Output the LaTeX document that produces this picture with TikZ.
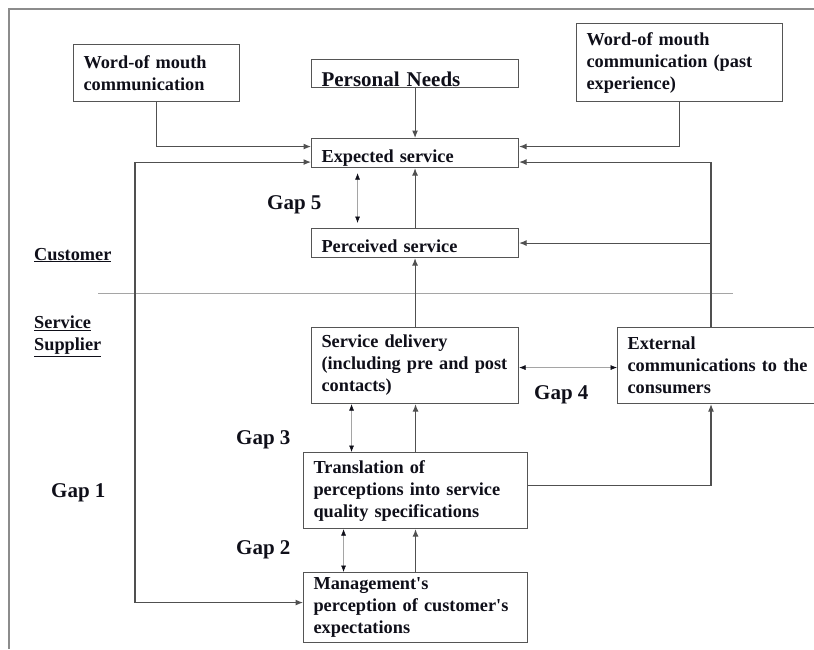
\documentclass[tikz,border=0pt]{standalone}
\usepackage{fontspec}
\setmainfont{Liberation Serif}
\usepackage{xcolor}
\usetikzlibrary{arrows.meta}
\definecolor{ink}{RGB}{15,15,25}
\definecolor{boxgray}{RGB}{85,85,85}
\definecolor{linegray}{RGB}{80,80,80}
\definecolor{thingray}{RGB}{165,165,165}
\definecolor{framegray}{RGB}{140,140,140}

\begin{document}
\begin{tikzpicture}[x=1pt, y=-1pt, >={Latex[length=7.5pt,width=6pt]},
		box/.style={draw=boxgray, line width=1.1pt, anchor=north west, inner xsep=10pt, inner ysep=2pt, align=left, text=ink, font=\fontsize{18.3}{22}\selectfont\bfseries},
		conn/.style={draw=linegray, line width=1.1pt, ->},
		gaparr/.style={draw=thingray, line width=0.6pt, {Latex[length=6.5pt,width=5pt,color=ink]}-{Latex[length=6.5pt,width=5pt,color=ink]}},
		gaplbl/.style={anchor=base west, inner sep=0pt, text=ink, font=\fontsize{21}{25}\selectfont\bfseries},
		side/.style={inner sep=0pt, align=left, text=ink, font=\fontsize{18.3}{22}\selectfont\bfseries}]
		\useasboundingbox (0,0) rectangle (814,649);
		\draw[framegray, line width=1.5pt] (814,9) -- (9,9) -- (9,649);
		\draw[thingray, line width=0.8pt] (98,293) -- (733,293);
		\node[box, text width=146pt, minimum height=57pt] (wom1) at (73,44) {Word-of mouth\\communication};
		\node[box, text width=187pt, text height=26pt, text depth=0pt, inner ysep=1pt, font=\fontsize{21}{25}\selectfont\bfseries] (needs) at (311,59) {Personal Needs};
		\node[box, text width=186pt, minimum height=78pt] (wom2) at (576,23) {Word-of mouth\\communication (past\\experience)};
		\node[box, text width=187pt, text height=22pt, text depth=3pt] (expected) at (311,138) {Expected service};
		\node[box, text width=187pt, text height=22pt, text depth=3pt] (perceived) at (311,228) {Perceived service};
		\node[box, text width=187pt, minimum height=76pt] (delivery) at (311,327) {Service delivery\\(including pre and post\\contacts)};
		\node[box, text width=185pt, minimum height=76pt] (external) at (617,327) {External\\communications to the\\consumers};
		\node[box, text width=204pt, minimum height=76pt] (translation) at (303,452) {Translation of\\perceptions into service\\quality specifications};
		\node[box, text width=204pt, minimum height=70pt] (management) at (303,572) {Management\textquotesingle s\\perception of customer\textquotesingle s\\expectations};
		\node[side, anchor=base west] (cust) at (34,260) {\underline{Customer}};
		\node[side, anchor=north west] (supp) at (34,315.5) {\underline{Service}\\\underline{Supplier}};
		\foreach \n/\x/\y in {5/267/209, 4/534/399, 3/236/444, 1/51/497, 2/236/554} {
			\node[gaplbl] (gap\n) at (\x,\y) {Gap \n};
		}
		\coordinate (rt) at (711,0);
		\draw[conn] (wom1.south) |- ([yshift=6.5pt]expected.west);
		\draw[conn] (needs.south) -- (expected.north);
		\draw[conn] (wom2.south) |- ([yshift=6.5pt]expected.east);
		\draw[conn, <->] ([yshift=-9pt]expected.west) -- ++(-176,0) |- ([yshift=5pt]management.west);
		\draw[conn] (external.north -| rt) |- ([yshift=-9pt]expected.east);
		\draw[conn] (rt |- perceived.east) -- (perceived.east);
		\draw[conn] (perceived.north) -- (expected.south);
		\draw[conn] (delivery.north) -- (perceived.south);
		\draw[conn] (translation.north) -- (translation.north |- delivery.south);
		\draw[conn] (management.north) -- (translation.south);
		\draw[conn] ([yshift=5pt]translation.east) -| (rt |- external.south);
		\draw[gaparr, shorten <=5pt, shorten >=5pt] ([xshift=-57.5pt]expected.south) -- ([xshift=-57.5pt]perceived.north);
		\draw[gaparr] ([xshift=-63.5pt]delivery.south) -- ([xshift=-63.5pt]delivery.south |- translation.north);
		\draw[gaparr] ([xshift=-72pt]translation.south) -- ([xshift=-72pt]management.north);
		\draw[gaparr] ([yshift=-2pt]delivery.east) -- ([yshift=-2pt]delivery.east -| external.west);
	\end{tikzpicture}
\end{document}
